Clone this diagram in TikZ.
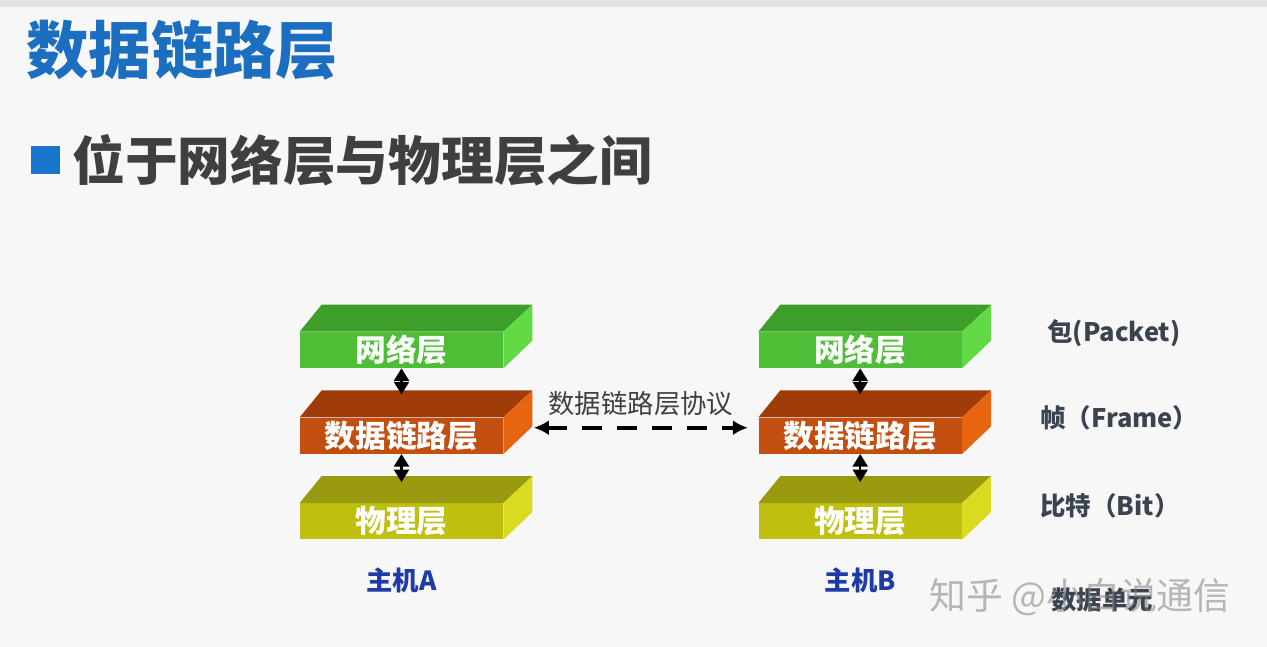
\documentclass[tikz,border=0pt]{standalone}
\usepackage{fontspec}
\setmainfont{Noto Sans CJK SC}
\usetikzlibrary{arrows.meta, positioning, calc}
\definecolor{titleblue}{HTML}{1B6EC0}
\definecolor{bulletblue}{HTML}{1874CD}
\definecolor{subgray}{HTML}{3F3F3F}
\definecolor{unitgray}{HTML}{3C4350}
\definecolor{hostblue}{HTML}{1F3CA6}
\definecolor{netfront}{HTML}{4DBE36}
\definecolor{nettop}{HTML}{3E9E2A}
\definecolor{netside}{HTML}{62DA45}
\definecolor{dlfront}{HTML}{C24E10}
\definecolor{dltop}{HTML}{A03C08}
\definecolor{dlside}{HTML}{E8650F}
\definecolor{phyfront}{HTML}{BFBF10}
\definecolor{phytop}{HTML}{9A9A10}
\definecolor{physide}{HTML}{DADA20}
\tikzset{
  layer/.style = {rectangle, minimum width=4.06cm, minimum height=0.72cm, inner sep=0pt, text=white, font=\bfseries\fontsize{17.5}{20}\selectfont},
  unitlabel/.style = {anchor=west, inner sep=0pt, text=unitgray, font=\bfseries\fontsize{14.5}{17}\selectfont},
  hostlabel/.style = {inner sep=0pt, text=hostblue, font=\bfseries\fontsize{15}{18}\selectfont},
  linkarrow/.style = {{Triangle[length=0.25cm,width=0.3cm]}-{Triangle[length=0.25cm,width=0.3cm]}, line width=1.2pt},
  protoarrow/.style = {{Latex[length=0.3cm,width=0.3cm]}-{Latex[length=0.3cm,width=0.3cm]}, line width=2.2pt, dash pattern=on 0.4cm off 0.3cm},
}
% top face and right face of a layer block
\newcommand{\layerfaces}[3]{%
  \fill[#2] (#1.north west) -- ++(0.44,0.54) -- ($(#1.north east)+(0.58,0.54)$) -- (#1.north east) -- cycle;
  \fill[#3] (#1.north east) -- ++(0.58,0.54) -- ++(0,-0.72) -- (#1.south east) -- cycle;
}
\begin{document}
\begin{tikzpicture}[node distance=0.98cm]
    \useasboundingbox (0,0) rectangle (25.34,-12.94);
    \fill[white!97!black] (0,0) rectangle (25.34,-12.94);
    \fill[white!89!black] (0,0) rectangle (25.34,-0.15);

    % heading
    \node (title) [anchor=west, inner sep=0pt, text=titleblue, font=\bfseries\fontsize{35.5}{41}\selectfont] at (0.52,-1.0) {数据链路层};
    \fill[bulletblue] (0.62,-2.92) rectangle (1.2,-3.48);
    \node (sub) [anchor=west, inner sep=0pt, text=subgray, font=\bfseries\fontsize{30}{35}\selectfont] at (1.44,-3.2) {位于网络层与物理层之间};

    % host A
    \node (n00) [layer, fill=netfront] at (8.03,-7.0) {网络层};
    \node (n10) [layer, fill=dlfront, below=of n00] {数据链路层};
    \node (n20) [layer, fill=phyfront, below=of n10] {物理层};
    % host B
    \node (n01) [layer, fill=netfront, right=5.1cm of n00] {网络层};
    \node (n11) [layer, fill=dlfront, below=of n01] {数据链路层};
    \node (n21) [layer, fill=phyfront, below=of n11] {物理层};

    \layerfaces{n00}{nettop}{netside}
    \layerfaces{n10}{dltop}{dlside}
    \layerfaces{n20}{phytop}{physide}
    \layerfaces{n01}{nettop}{netside}
    \layerfaces{n11}{dltop}{dlside}
    \layerfaces{n21}{phytop}{physide}

    \draw [linkarrow] (n00.south) -- ([yshift=0.46cm]n10.north);
    \draw [linkarrow] (n10.south) -- ([yshift=0.42cm]n20.north);
    \draw [linkarrow] (n01.south) -- ([yshift=0.46cm]n11.north);
    \draw [linkarrow] (n11.south) -- ([yshift=0.42cm]n21.north);

    \draw [protoarrow] ([xshift=0.61cm, yshift=0.16cm]n10.east) -- ([xshift=-0.21cm, yshift=0.16cm]n11.west)
        node (proto) [midway, above=0.2cm, inner sep=0pt, text=subgray, font=\fontsize{15}{18}\selectfont] {数据链路层协议};

    \node (hostA) [hostlabel, below=0.56cm of n20] {主机A};
    \node (hostB) [hostlabel, below=0.56cm of n21] {主机B};

    % data units
    \node (u0) [unitlabel] at (20.94,-6.66) {包(Packet)};
    \node (u1) [unitlabel] at (20.8,-8.36) {帧（Frame）};
    \node (u2) [unitlabel] at (20.8,-10.12) {比特（Bit）};
    \node (u3) [unitlabel, anchor=center] at (22.04,-12.0) {数据单元};
    \node (mark) [inner sep=0pt, text=gray, opacity=0.55, font=\fontsize{21}{24}\selectfont] at (21.6,-11.94) {知乎 @小白说通信};
\end{tikzpicture}
\end{document}
